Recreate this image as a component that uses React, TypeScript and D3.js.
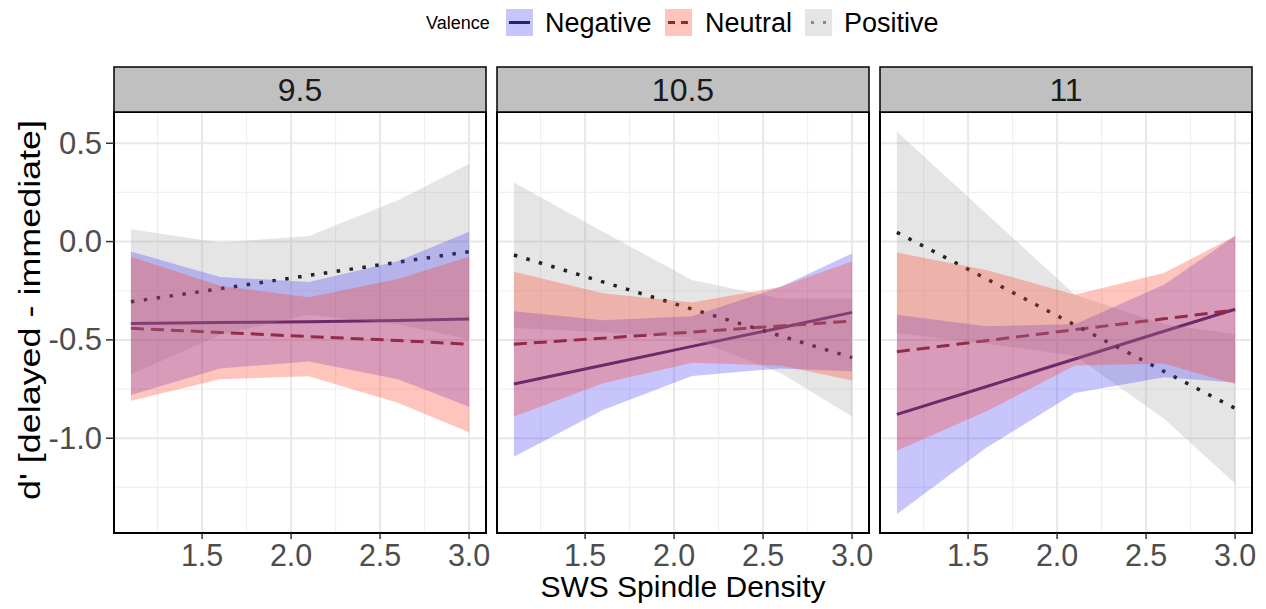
import React from "react";
import * as d3 from "d3";

// ---------- data ----------
const valences = ["Negative", "Neutral", "Positive"];
const facets = ["9.5", "10.5", "11"];
const xPoints = [1.1, 1.6, 2.1, 2.6, 3.0];
const xTicks = [1.5, 2.0, 2.5, 3.0];
const xMinor = [1.25, 1.75, 2.25, 2.75];
const yTicks = [0.5, 0.0, -0.5, -1.0];
const yMinor = [0.25, -0.25, -0.75, -1.25];

// fitted values per facet (9.5, 10.5, 11) at xPoints
const negFit = [
  [-0.416, -0.412, -0.408, -0.401, -0.394],
  [-0.724, -0.629, -0.533, -0.438, -0.36],
  [-0.879, -0.738, -0.597, -0.456, -0.344],
];
const negLow = [
  [-0.78, -0.645, -0.61, -0.7, -0.84],
  [-1.094, -0.857, -0.684, -0.645, -0.66],
  [-1.386, -1.05, -0.77, -0.69, -0.716],
];
const negHigh = [
  [-0.05, -0.18, -0.205, -0.1, 0.05],
  [-0.354, -0.4, -0.38, -0.23, -0.06],
  [-0.372, -0.43, -0.42, -0.22, 0.028],
];
const neuFit = [
  [-0.441, -0.462, -0.483, -0.503, -0.522],
  [-0.522, -0.491, -0.46, -0.429, -0.404],
  [-0.56, -0.504, -0.448, -0.393, -0.348],
];
const neuLow = [
  [-0.81, -0.7, -0.685, -0.82, -0.97],
  [-0.89, -0.72, -0.616, -0.63, -0.707],
  [-1.064, -0.864, -0.63, -0.62, -0.724],
];
const neuHigh = [
  [-0.077, -0.225, -0.283, -0.19, -0.077],
  [-0.153, -0.263, -0.31, -0.23, -0.1],
  [-0.056, -0.144, -0.27, -0.16, 0.028],
];
const posFit = [
  [-0.306, -0.24, -0.172, -0.105, -0.051],
  [-0.068, -0.205, -0.343, -0.48, -0.59],
  [0.047, -0.188, -0.424, -0.66, -0.848],
];
const posLow = [
  [-0.675, -0.475, -0.372, -0.42, -0.497],
  [-0.44, -0.46, -0.49, -0.67, -0.89],
  [-0.465, -0.52, -0.58, -0.9, -1.23],
];
const posHigh = [
  [0.063, -0.005, 0.028, 0.21, 0.395],
  [0.3, 0.05, -0.195, -0.29, -0.29],
  [0.559, 0.144, -0.27, -0.42, -0.47],
];

// ---------- styling ----------
const FONT = "'Liberation Sans', Arial, Helvetica, sans-serif";
const styles: Record<string, { line: string; fill: string; op: number; dash: string; legLine: string; width: number }> = {
  Negative: { line: "#24185a", fill: "#4a3af5", op: 0.3, dash: "none", legLine: "#2a2070", width: 3 },
  Neutral: { line: "#6e1a14", fill: "#ff3a20", op: 0.3, dash: "13 7", legLine: "#8b2e22", width: 3 },
  Positive: { line: "#222222", fill: "#a8a8a8", op: 0.3, dash: "3.5 9.5", legLine: "#8a8a8a", width: 3.5 },
};

const W = 1266;
const H = 609;
const panelLefts = [114, 497, 880];
const panelW = 372;
const panelTop = 112;
const panelBottom = 533;
const stripTop = 67;

const fmt = (t: number) => d3.format(".1f")(t).replace("\u2212", "-");

export default function App() {
  const x = d3.scaleLinear().domain([1.005, 3.095]).range([0, panelW]);
  const y = d3.scaleLinear().domain([-1.482, 0.659]).range([panelBottom, panelTop]);

  const area = d3
    .area<[number, number, number]>()
    .x((d) => x(d[0]))
    .y0((d) => y(d[1]))
    .y1((d) => y(d[2]));
  const line = d3
    .line<[number, number]>()
    .x((d) => x(d[0]))
    .y((d) => y(d[1]));

  const series = (fi: number) => ({
    Negative: { fit: negFit[fi], lo: negLow[fi], hi: negHigh[fi] },
    Neutral: { fit: neuFit[fi], lo: neuLow[fi], hi: neuHigh[fi] },
    Positive: { fit: posFit[fi], lo: posLow[fi], hi: posHigh[fi] },
  });

  const ribbon = (v: string, s: any) => (
    <path
      key={"r" + v}
      d={area(xPoints.map((xx, i) => [xx, s.lo[i], s.hi[i]]) as any) || ""}
      fill={styles[v].fill}
      fillOpacity={styles[v].op}
      stroke="none"
    />
  );
  const fitLine = (v: string, s: any) => (
    <path
      key={"l" + v}
      d={line(xPoints.map((xx, i) => [xx, s.fit[i]]) as any) || ""}
      fill="none"
      stroke={styles[v].line}
      strokeWidth={styles[v].width}
      strokeDasharray={styles[v].dash}
    />
  );

  // legend layout
  const legKeys = [506, 665, 805];
  const legText = [545, 705, 844];

  return (
    <svg
      width={W}
      height={H}
      style={{ position: "absolute", left: 0, top: 0, background: "#fff" }}
      fontFamily={FONT}
    >
      <rect x={0} y={0} width={W} height={H} fill="#fff" />
      {/* legend */}
      <text x={426} y={29} fontSize={18} fill="#000">
        Valence
      </text>
      {valences.map((v, i) => (
        <g key={v}>
          <rect x={legKeys[i]} y={9} width={27} height={27} fill={styles[v].fill} fillOpacity={styles[v].op} />
          <line
            x1={legKeys[i] + 3}
            x2={legKeys[i] + 24}
            y1={22.5}
            y2={22.5}
            stroke={styles[v].legLine}
            strokeWidth={3}
            strokeDasharray={v === "Neutral" ? "7 6" : v === "Positive" ? "3 9" : "none"}
            strokeDashoffset={v === "Positive" ? -3 : 0}
          />
          <text x={legText[i]} y={32} fontSize={27} fill="#000">
            {v}
          </text>
        </g>
      ))}

      {facets.map((f, fi) => {
        const s: any = series(fi);
        const left = panelLefts[fi];
        return (
          <g key={f} transform={`translate(${left},0)`}>
            <clipPath id={"clip" + fi}>
              <rect x={0} y={panelTop} width={panelW} height={panelBottom - panelTop} />
            </clipPath>
            {/* grid */}
            {yMinor.map((t) => (
              <line key={"ym" + t} x1={0} x2={panelW} y1={y(t)} y2={y(t)} stroke="#f0f0f0" strokeWidth={1.2} />
            ))}
            {xMinor.map((t) => (
              <line key={"xm" + t} x1={x(t)} x2={x(t)} y1={panelTop} y2={panelBottom} stroke="#f0f0f0" strokeWidth={1.2} />
            ))}
            {yTicks.map((t) => (
              <line key={"yg" + t} x1={0} x2={panelW} y1={y(t)} y2={y(t)} stroke="#e8e8e8" strokeWidth={2} />
            ))}
            {xTicks.map((t) => (
              <line key={"xg" + t} x1={x(t)} x2={x(t)} y1={panelTop} y2={panelBottom} stroke="#e8e8e8" strokeWidth={2} />
            ))}
            <g clipPath={`url(#clip${fi})`}>
              {fitLine("Negative", s.Negative)}
              {fitLine("Neutral", s.Neutral)}
              {ribbon("Positive", s.Positive)}
              {fitLine("Positive", s.Positive)}
              {ribbon("Negative", s.Negative)}
              {ribbon("Neutral", s.Neutral)}
            </g>
            {/* border */}
            <rect x={0} y={panelTop} width={panelW} height={panelBottom - panelTop} fill="none" stroke="#000" strokeWidth={2} />
            {/* strip */}
            <rect x={0} y={stripTop} width={panelW} height={panelTop - stripTop} fill="#c0c0c0" stroke="#000" strokeWidth={1.5} />
            <text x={panelW / 2} y={(stripTop + panelTop) / 2 + 11} fontSize={32} textAnchor="middle" fill="#1a1a1a">
              {f}
            </text>
            {/* x ticks */}
            {xTicks.map((t) => (
              <g key={"xt" + t}>
                <line x1={x(t)} x2={x(t)} y1={panelBottom} y2={panelBottom + 6} stroke="#333" strokeWidth={1.5} />
                <text x={x(t)} y={panelBottom + 33} fontSize={30.5} textAnchor="middle" fill="#4d4d4d">
                  {fmt(t)}
                </text>
              </g>
            ))}
          </g>
        );
      })}

      {/* y axis */}
      {yTicks.map((t) => (
        <g key={"yt" + t}>
          <line x1={106} x2={114} y1={y(t)} y2={y(t)} stroke="#333" strokeWidth={1.5} />
          <text x={102} y={y(t) + 10.5} fontSize={31} textAnchor="end" fill="#4d4d4d">
            {fmt(t)}
          </text>
        </g>
      ))}
      <text
        transform={`translate(40,310) rotate(-90)`}
        fontSize={30}
        textAnchor="middle"
        textLength={380}
        lengthAdjust="spacingAndGlyphs"
        fill="#000"
      >
        d' [delayed - immediate]
      </text>
      <text x={683} y={597} fontSize={30} textAnchor="middle" fill="#000">
        SWS Spindle Density
      </text>
    </svg>
  );
}
